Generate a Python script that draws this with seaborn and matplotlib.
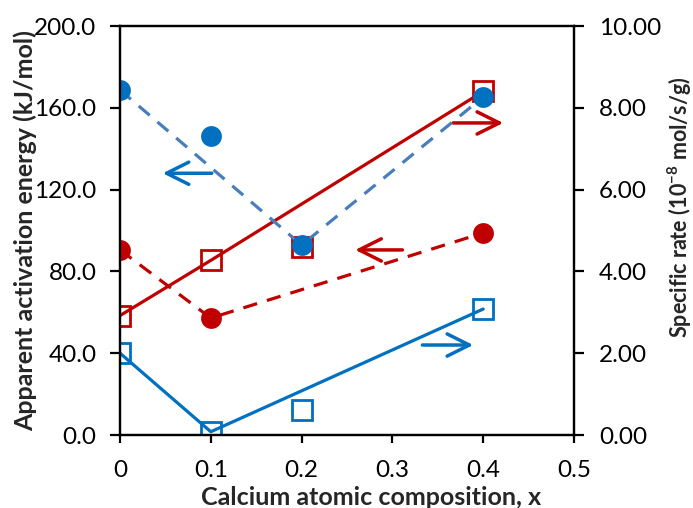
import matplotlib
matplotlib.use('Agg')
import matplotlib.pyplot as plt
import seaborn as sns
import pandas as pd
from matplotlib.ticker import FixedLocator, FormatStrFormatter

# ---------------- data ----------------
x_all = [0.0, 0.1, 0.2, 0.4]
ea_blue = [168.7, 146.2, 92.9, 165.3]          # activation energy, blue circles
x_red_circ = [0.0, 0.1, 0.4]
ea_red = [90.5, 57.2, 98.8]                     # activation energy, red circles
rate_blue = [2.00, 0.08, 0.61, 3.08]            # specific rate, blue squares
rate_red = [2.92, 4.27, 4.60, 8.40]             # specific rate, red squares
blue_dash_idx = [0, 2, 3]
blue_solid_idx = [0, 1, 3]
red_solid_idx = [0, 1, 3]

left_ticks = [0, 40, 80, 120, 160, 200]
right_ticks = [0, 2, 4, 6, 8, 10]
x_ticks = [0, 0.1, 0.2, 0.3, 0.4, 0.5]
x_ticklabels = ['0', '0.1', '0.2', '0.3', '0.4', '0.5']

# arrows: (tail x, head x, y)
arrow_blue_left = (0.101, 0.047, 128.0)   # left axis
arrow_red_left = (0.311, 0.259, 90.5)     # left axis
arrow_red_right = (0.367, 0.422, 7.63)    # right axis
arrow_blue_right = (0.333, 0.389, 2.2)    # right axis

BLUE = '#0070C0'
BLUE_DASH = '#4A7EBB'
RED = '#C00000'

sns.set_style('white')
plt.rcParams['font.family'] = ['Lato', 'DejaVu Sans']
plt.rcParams['mathtext.fontset'] = 'custom'
plt.rcParams['mathtext.rm'] = 'Lato'
plt.rcParams['mathtext.bf'] = 'Lato:bold'

fig = plt.figure(figsize=(6.93, 5.08), dpi=100)
ax = fig.add_axes([0.1732, 0.1437, 0.6551, 0.8051])
ax2 = ax.twinx()

def sub(xs, ys, idx):
    return pd.DataFrame({'x': [xs[i] for i in idx], 'y': [ys[i] for i in idx]})

# ---- right axis (specific rate): squares + solid lines ----
d = sub(x_all, rate_red, red_solid_idx)
sns.lineplot(data=d, x='x', y='y', ax=ax2, color=RED, lw=2.3, sort=False)
d = sub(x_all, rate_blue, blue_solid_idx)
sns.lineplot(data=d, x='x', y='y', ax=ax2, color=BLUE, lw=2.3, sort=False)
sns.lineplot(x=x_all, y=rate_red, ax=ax2, color=RED, linestyle='none', marker='s',
             markersize=14, markerfacecolor='none', markeredgecolor=RED, markeredgewidth=2.0)
sns.lineplot(x=x_all, y=rate_blue, ax=ax2, color=BLUE, linestyle='none', marker='s',
             markersize=14, markerfacecolor='none', markeredgecolor=BLUE, markeredgewidth=2.0)

# ---- left axis (activation energy): circles + dashed lines ----
d = sub(x_all, ea_blue, blue_dash_idx)
sns.lineplot(data=d, x='x', y='y', ax=ax, color=BLUE_DASH, lw=2.3, sort=False,
             linestyle=(0, (4.5, 3.2)))
sns.lineplot(x=x_red_circ, y=ea_red, ax=ax, color=RED, lw=2.3, sort=False,
             linestyle=(0, (4.5, 3.2)))
sns.lineplot(x=x_all, y=ea_blue, ax=ax, color=BLUE, linestyle='none', marker='o',
             markersize=15, markeredgewidth=0)
sns.lineplot(x=x_red_circ, y=ea_red, ax=ax, color=RED, linestyle='none', marker='o',
             markersize=15, markeredgewidth=0)

ax.set_zorder(ax2.get_zorder() + 1)
ax.patch.set_visible(False)

# ---- arrows ----
def arrow(a, axis, color):
    t, h, y = a
    axis.annotate('', xy=(h, y), xytext=(t, y),
                  arrowprops=dict(arrowstyle='->', color=color, lw=2.5,
                                  mutation_scale=40, shrinkA=0, shrinkB=0))

arrow(arrow_blue_left, ax, BLUE)
arrow(arrow_red_left, ax, RED)
arrow(arrow_red_right, ax2, RED)
arrow(arrow_blue_right, ax2, BLUE)

# ---- axes formatting ----
ax.set_xlim(0, 0.5)
ax.set_ylim(0, 200)
ax2.set_ylim(0, 10)
ax.xaxis.set_major_locator(FixedLocator(x_ticks))
ax.set_xticklabels(x_ticklabels)
ax.yaxis.set_major_locator(FixedLocator(left_ticks))
ax.yaxis.set_major_formatter(FormatStrFormatter('%.1f'))
ax2.yaxis.set_major_locator(FixedLocator(right_ticks))
ax2.yaxis.set_major_formatter(FormatStrFormatter('%.2f'))

for a in (ax, ax2):
    for s in a.spines.values():
        s.set_visible(True)
        s.set_color('black')
        s.set_linewidth(1.6)

ax.tick_params(axis='x', direction='out', length=6, width=1.6, colors='black',
               labelsize=17.5, pad=12, bottom=True, top=False)
ax.tick_params(axis='y', direction='out', length=7, width=1.6, colors='black',
               labelsize=17.5, pad=10, left=True, right=False)
ax2.tick_params(axis='y', direction='out', length=7, width=1.6, colors='black',
                labelsize=17.5, pad=11, right=True, left=False)

ax.set_xlabel('Calcium atomic composition, x', fontsize=18, fontweight='bold')
ax.xaxis.set_label_coords(0.553, -0.125)
ax.set_ylabel('Apparent activation energy (kJ/mol)', fontsize=18, fontweight='bold')
ax.yaxis.set_label_coords(-0.183, 0.5)
ax2.set_ylabel(r'Specific rate (10$^{\mathbf{-8}}$ mol/s/g)', fontsize=15.5, fontweight='bold')
ax2.yaxis.set_label_coords(1.202, 0.557)

fig.savefig('out.png', dpi=100)
